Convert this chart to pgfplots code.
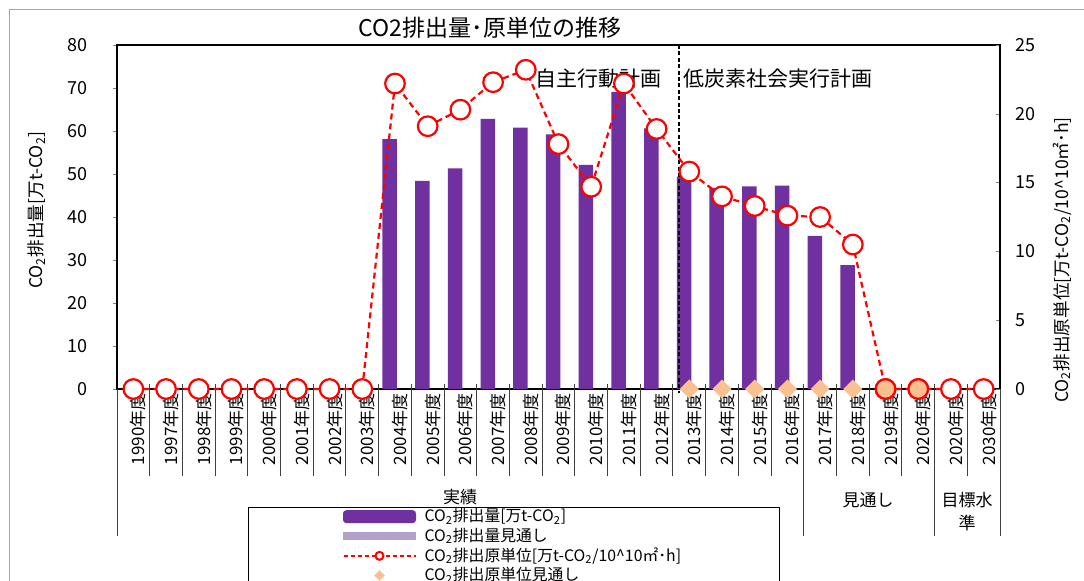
\documentclass[border=0pt]{standalone}
\usepackage{fontspec}
\setmainfont{Noto Sans CJK JP}
\usepackage{pgfplots}
\pgfplotsset{compat=1.18}
\definecolor{c1}{HTML}{7030A0}
\definecolor{c2}{HTML}{B1A0C7}
\definecolor{peach}{HTML}{FAC090}
\pgfplotsset{
  mybarlegend/.style={legend image code/.code={\fill[c1,rounded corners=1.5pt] (0pt,-3pt) rectangle (36pt,3pt);}},
  mybartwolegend/.style={legend image code/.code={\fill[c2] (0pt,-1.7pt) rectangle (36pt,1.7pt);}},
  mylinelegend/.style={legend image code/.code={\draw[mark repeat=2,mark phase=2,##1] plot coordinates {(0pt,0pt) (18pt,0pt) (36pt,0pt)};}},
  mymarklegend/.style={legend image code/.code={\draw[##1] plot coordinates {(18pt,0pt)};}},
}
\begin{document}
\begin{tikzpicture}
\useasboundingbox (0,0) rectangle (542pt,-290pt);
\fill[white] (0,0) rectangle (542pt,-290pt);
\draw[gray!70, line width=0.5pt] (4.5pt,-4.5pt) rectangle (560pt,-300pt);
\begin{axis}[
  at={(58.5pt,-194.5pt)}, anchor=south west,
  width=441.5pt, height=172pt, scale only axis,
  xmin=-0.5, xmax=26.5, ymin=0, ymax=80,
  ytick={0,10,...,80}, ytick pos=left, tick align=outside, major tick length=2pt,
  xtick={0,...,26},
  xticklabels={1990年度,1997年度,1998年度,1999年度,2000年度,2001年度,2002年度,2003年度,2004年度,2005年度,2006年度,2007年度,2008年度,2009年度,2010年度,2011年度,2012年度,2013年度,2014年度,2015年度,2016年度,2017年度,2018年度,2019年度,2020年度,2020年度,2030年度},
  xtick style={draw=none},
  xticklabel style={rotate=90, anchor=east, inner sep=0pt, yshift=-2.5pt, font=\fontsize{8.5pt}{9pt}\selectfont},
  yticklabel style={font=\fontsize{9pt}{10pt}\selectfont, inner sep=0pt, xshift=-12.5pt, anchor=east},
  axis line style={line width=1pt},
  /pgf/number format/assume math mode=true,
  clip=false]
\addplot[ybar, fill=c1, draw=none, bar width=7.25pt, bar shift=-2.65pt] coordinates {
(8,58.1) (9,48.4) (10,51.3) (11,62.8) (12,60.8) (13,59.2) (14,52.1) (15,69.1) (16,60.6)
(17,49.4) (18,46.8) (19,47.1) (20,47.3) (21,35.6) (22,28.8)};
\end{axis}
\begin{scope}[x=0.5pt,y=-0.5pt]
\draw[black, line width=0.6pt, dash pattern=on 2pt off 1.2pt] (679,45) -- (679,393);
\foreach \k in {1,...,26} {\draw[black!75, line width=0.5pt] ({117+\k*32.7037},384) -- ({117+\k*32.7037},476);}
\foreach \k in {0,21,25,27} {\draw[black!75, line width=0.5pt] ({117+\k*32.7037},389) -- ({117+\k*32.7037},536);}
\node[font=\fontsize{8.5pt}{9pt}\selectfont] at (460,497) {実績};
\node[font=\fontsize{8.5pt}{9pt}\selectfont] at (868,500) {見通し};
\node[font=\fontsize{8.5pt}{9pt}\selectfont] at (967,500) {目標水};
\node[font=\fontsize{8.5pt}{9pt}\selectfont] at (967,523) {準};
\node[font=\fontsize{11.5pt}{12pt}\selectfont] at (490,28) {CO2排出量･原単位の推移};
\node[rotate=90, font=\fontsize{8.8pt}{9pt}\selectfont] at (37,210) {CO\textsubscript{2}排出量[万t-CO\textsubscript{2}]};
\node[rotate=90, font=\fontsize{8.8pt}{9pt}\selectfont] at (1062,260) {CO\textsubscript{2}排出原単位[万t-CO\textsubscript{2}/10\textasciicircum10㎡･h]};
\node[anchor=east, inner sep=0pt, font=\fontsize{10.5pt}{11pt}\selectfont] at (662,79) {自主行動計画};
\node[anchor=west, inner sep=0pt, font=\fontsize{10.5pt}{11pt}\selectfont] at (683,79) {低炭素社会実行計画};
\end{scope}
\begin{axis}[
  at={(58.5pt,-194.5pt)}, anchor=south west,
  width=441.5pt, height=172pt, scale only axis,
  xmin=-0.5, xmax=26.5, ymin=0, ymax=25,
  axis x line=none, axis y line*=right,
  ytick={0,5,...,25}, tick align=inside, major tick length=2pt,
  yticklabel style={font=\fontsize{9pt}{10pt}\selectfont, inner sep=0pt, xshift=7.5pt, anchor=west},
  axis line style={line width=1pt},
  /pgf/number format/assume math mode=true,
  clip=false,
  legend cell align=left,
  legend style={at={(0.14836,-0.34302)}, anchor=north west, draw=black, line width=0.5pt, fill=white,
    inner xsep=47pt, inner ysep=0.5pt, font=\fontsize{7.9pt}{8pt}\selectfont, row sep=1.6pt, column sep=2pt,
    nodes={inner ysep=0pt}}]
\addlegendimage{mybarlegend}
\addlegendentry{CO\textsubscript{2}排出量[万t-CO\textsubscript{2}]}
\addlegendimage{mybartwolegend}
\addlegendentry{CO\textsubscript{2}排出量見通し}
\addlegendimage{mylinelegend, red, line width=1pt, dash pattern=on 2pt off 1.5pt, mark=*, mark size=2pt, mark options={solid, fill=white, draw=red, line width=1pt}}
\addlegendentry{CO\textsubscript{2}排出原単位[万t-CO\textsubscript{2}/10\textasciicircum10㎡･h]}
\addlegendimage{mymarklegend, only marks, color=peach, mark=square*, mark size=1.8pt, mark options={rotate=45, fill=peach, draw=peach, line width=0.1pt}}
\addlegendentry{CO\textsubscript{2}排出原単位見通し}
\addplot[forget plot, red, line width=1.1pt, dash pattern=on 3pt off 2pt, mark=*, mark size=4.9pt, mark options={solid, fill=white, draw=red, line width=1.1pt}] coordinates {
(0,0) (1,0) (2,0) (3,0) (4,0) (5,0) (6,0) (7,0)
(8,22.2) (9,19.1) (10,20.3) (11,22.3) (12,23.2) (13,17.8) (14,14.7) (15,22.2) (16,18.9)
(17,15.8) (18,14.0) (19,13.3) (20,12.6) (21,12.5) (22,10.5) (23,0) (24,0) (25,0) (26,0)};
\addplot[forget plot, only marks, color=peach, mark=square*, mark size=3.3pt, mark options={rotate=45, fill=peach, draw=peach, line width=0.1pt}] coordinates {
(17,0) (18,0) (19,0) (20,0) (21,0) (22,0)};
\addplot[forget plot, only marks, mark=*, mark size=4.9pt, mark options={fill=peach, draw=red, line width=1.1pt}] coordinates {
(23,0) (24,0)};
\end{axis}
\end{tikzpicture}
\end{document}
